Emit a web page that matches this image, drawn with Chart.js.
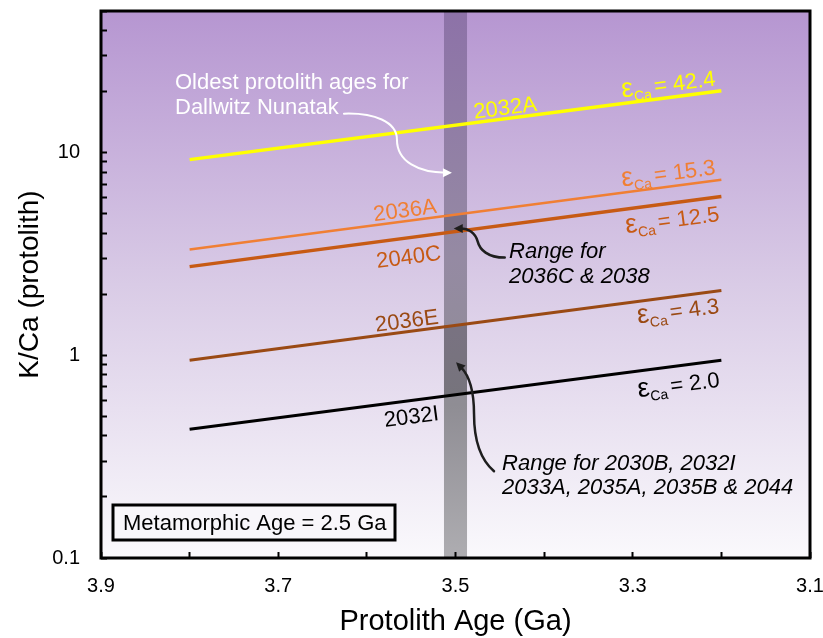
<!DOCTYPE html>
<html>
<head>
<meta charset="utf-8">
<script src="https://cdn.jsdelivr.net/npm/chart.js@4/dist/chart.umd.min.js"></script>
<style>
  html, body { margin: 0; padding: 0; background: #ffffff; }
  #c { display: block; }
</style>
</head>
<body>
<canvas id="c" width="823" height="638"></canvas>
<script>
// ---- data -------------------------------------------------------------
// Protolith ages (Ga) at which each K/Ca model line is evaluated
const ages = [3.8, 3.2];

// K/Ca (protolith) for each sample at those ages
const kca2032A = [9.24, 20.2];
const kca2036A = [3.33, 7.36];
const kca2040C = [2.74, 6.07];
const kca2036E = [0.945, 2.09];
const kca2032I = [0.432, 0.945];

const sampleNames = ['2032A', '2036A', '2040C', '2036E', '2032I'];
const epsilonCa   = ['42.4', '15.3', '12.5', '4.3', '2.0'];

// Axis ticks
const ageTickValues = [3.9, 3.8, 3.7, 3.6, 3.5, 3.4, 3.3, 3.2, 3.1];
const ageTickLabels = ['3.9', '', '3.7', '', '3.5', '', '3.3', '', '3.1'];
const kcaTickValues = [0.1, 0.2, 0.3, 0.4, 0.5, 0.6, 0.7, 0.8, 0.9,
                       1, 2, 3, 4, 5, 6, 7, 8, 9,
                       10, 20, 30, 40, 50];
const kcaTickLabels = ['0.1', '', '', '', '', '', '', '', '',
                       '1', '', '', '', '', '', '', '', '',
                       '10', '', '', '', ''];

// Oldest protolith age band and the K/Ca ranges within it
const bandAge   = [3.513, 3.487];
const rangeHigh = [4.08, 4.95];   // 2036C & 2038
const rangeLow  = [0.64, 1.41];   // 2030B, 2032I, 2033A, 2035A, 2035B & 2044

const seriesValues = [kca2032A, kca2036A, kca2040C, kca2036E, kca2032I];

// ---- styling ----------------------------------------------------------
const FONT = '"Liberation Sans", Arial, Helvetica, sans-serif';
const lineColors = ['#ffff00', '#f07f34', '#c75a14', '#9a4a14', '#000000'];
const lineWidths = [3.5, 2.5, 3.5, 3, 3];

// where the sample names / epsilon labels sit along each line
const nameLabelAge   = [3.478, 3.591, 3.592, 3.589, 3.583];
const nameLabelShift = [-4, -4, 26, -4, 23];
const epsLabelAge    = 3.205;
const epsLabelShift  = [-6, -6, 24, 22, 26];

const notes = [
  { age: 3.8165, kca: 20.67, gap: 25, color: '#ffffff', italic: false,
    lines: ['Oldest protolith ages for', 'Dallwitz Nunatak'] },
  { age: 3.4396, kca: 3.005, gap: 25, color: '#000000', italic: true,
    lines: ['Range for', '2036C & 2038'] },
  { age: 3.4475, kca: 0.2714, gap: 24, color: '#000000', italic: true,
    lines: ['Range for 2030B, 2032I', '2033A, 2035A, 2035B & 2044'] }
];

// curved pointers: tip anchored in data space, shape in pixel offsets from the tip
const pointers = [
  { age: 3.504, kca: 7.97, color: '#ffffff', width: 2,
    path: [[-108, -59], [-78, -60], [-55, -51], [-55, -33], [-55, -11], [-33, 0], [-6, 0]] },
  { age: 3.502, kca: 4.22, color: '#1e1e1e', width: 2.5,
    path: [[51, 29], [34, 29], [26, 21], [24, 13], [21, 3], [14, 0], [6, 0]] },
  { age: 3.4994, kca: 0.924, color: '#1e1e1e', width: 2.5,
    path: [[38, 109], [24, 97], [18, 77], [18, 52], [18, 27], [12, 12], [5, 5]] }
];

function lookupLabel(values, labels, v) {
  for (let i = 0; i < values.length; i++) {
    if (Math.abs(values[i] - v) < 1e-6 * Math.max(1, Math.abs(v))) return labels[i];
  }
  return '';
}

function linePoint(chart, i, age) {
  const xs = chart.scales.x, ys = chart.scales.y;
  const x1 = xs.getPixelForValue(ages[0]), y1 = ys.getPixelForValue(seriesValues[i][0]);
  const x2 = xs.getPixelForValue(ages[1]), y2 = ys.getPixelForValue(seriesValues[i][1]);
  const x = xs.getPixelForValue(age);
  const t = (x - x1) / (x2 - x1);
  return { x: x, y: y1 + t * (y2 - y1), angle: Math.atan2(y2 - y1, x2 - x1) };
}

function drawEpsilon(ctx, value, color) {
  // right-aligned at the origin, baseline at y = 0
  const eps = '27px ' + FONT, big = '22px ' + FONT, small = '14px ' + FONT;
  ctx.font = eps;
  const wE = ctx.measureText('\u03b5').width;
  ctx.font = big;
  const wR = ctx.measureText('= ' + value).width;
  ctx.font = small;
  const wS = ctx.measureText('Ca').width;
  let x = -(wE + wS + 3 + wR);
  ctx.fillStyle = color;
  ctx.textAlign = 'left';
  ctx.textBaseline = 'alphabetic';
  ctx.font = eps;   ctx.fillText('\u03b5', x, 0); x += wE;
  ctx.font = small; ctx.fillText('Ca', x, 5); x += wS + 3;
  ctx.font = big;   ctx.fillText('= ' + value, x, 0);
}

function drawHead(ctx, x, y, angle, len, half) {
  ctx.save();
  ctx.translate(x, y);
  ctx.rotate(angle);
  ctx.beginPath();
  ctx.moveTo(0, 0);
  ctx.lineTo(-len, -half);
  ctx.lineTo(-len, half);
  ctx.closePath();
  ctx.fill();
  ctx.restore();
}

const decor = {
  id: 'decor',
  beforeDraw(chart) {
    const { ctx, chartArea: a } = chart;
    const xs = chart.scales.x, ys = chart.scales.y;
    ctx.save();
    // plot background
    const g = ctx.createLinearGradient(0, a.top, 0, a.bottom);
    g.addColorStop(0, '#b696d1');
    g.addColorStop(0.5, '#d9cbe6');
    g.addColorStop(1, '#faf9fc');
    ctx.fillStyle = g;
    ctx.fillRect(a.left, a.top, a.right - a.left, a.bottom - a.top);

    // age band
    const bx1 = xs.getPixelForValue(bandAge[0]), bx2 = xs.getPixelForValue(bandAge[1]);
    const bl = Math.min(bx1, bx2), bw = Math.abs(bx2 - bx1);
    const bg = ctx.createLinearGradient(0, a.top, 0, a.bottom);
    bg.addColorStop(0, '#8d72a8');
    bg.addColorStop(0.45, '#958aa3');
    bg.addColorStop(0.72, '#8f8d94');
    bg.addColorStop(1, '#aeadb1');
    ctx.fillStyle = bg;
    ctx.fillRect(bl, a.top, bw, a.bottom - a.top);

    ctx.fillStyle = 'rgba(40,38,48,0.24)';
    [rangeHigh, rangeLow].forEach(r => {
      const t = ys.getPixelForValue(r[1]), b = ys.getPixelForValue(r[0]);
      ctx.fillRect(bl, t, bw, b - t);
    });
    ctx.restore();
  },
  afterDatasetsDraw(chart) {
    const { ctx } = chart;
    const xs = chart.scales.x, ys = chart.scales.y;
    ctx.save();

    // sample names and epsilon values along the lines
    sampleNames.forEach((name, i) => {
      const p = linePoint(chart, i, nameLabelAge[i]);
      ctx.save();
      ctx.translate(p.x, p.y);
      ctx.rotate(p.angle);
      ctx.font = '22px ' + FONT;
      ctx.fillStyle = lineColors[i];
      ctx.textAlign = 'left';
      ctx.textBaseline = 'alphabetic';
      ctx.fillText(name, 0, nameLabelShift[i]);
      ctx.restore();

      const q = linePoint(chart, i, epsLabelAge);
      ctx.save();
      ctx.translate(q.x, q.y);
      ctx.rotate(q.angle);
      ctx.translate(0, epsLabelShift[i]);
      drawEpsilon(ctx, epsilonCa[i], lineColors[i]);
      ctx.restore();
    });

    // notes
    notes.forEach(n => {
      const x = xs.getPixelForValue(n.age), y = ys.getPixelForValue(n.kca);
      ctx.font = (n.italic ? 'italic ' : '') + '22px ' + FONT;
      ctx.fillStyle = n.color;
      ctx.textAlign = 'left';
      ctx.textBaseline = 'alphabetic';
      n.lines.forEach((t, k) => ctx.fillText(t, x, y + k * n.gap));
    });

    // pointers
    pointers.forEach(pt => {
      const tx = xs.getPixelForValue(pt.age), ty = ys.getPixelForValue(pt.kca);
      const P = pt.path.map(([dx, dy]) => [tx + dx, ty + dy]);
      ctx.strokeStyle = pt.color;
      ctx.fillStyle = pt.color;
      ctx.lineWidth = pt.width;
      ctx.lineCap = 'round';
      ctx.beginPath();
      ctx.moveTo(P[0][0], P[0][1]);
      ctx.bezierCurveTo(P[1][0], P[1][1], P[2][0], P[2][1], P[3][0], P[3][1]);
      ctx.bezierCurveTo(P[4][0], P[4][1], P[5][0], P[5][1], P[6][0], P[6][1]);
      ctx.stroke();
      const ang = Math.atan2(ty - P[5][1], tx - P[5][0]);
      drawHead(ctx, tx, ty, ang, 9, 4.5);
    });
    ctx.restore();
  },
  afterDraw(chart) {
    const { ctx, chartArea: a } = chart;
    ctx.save();
    // plot frame
    ctx.strokeStyle = '#000000';
    ctx.lineWidth = 3;
    ctx.strokeRect(a.left, a.top, a.right - a.left, a.bottom - a.top);

    // metamorphic age box
    const bl = a.left + 12, bt = a.bottom - 53, bw = 282, bh = 35;
    ctx.fillStyle = '#f8f6fa';
    ctx.fillRect(bl, bt, bw, bh);
    ctx.lineWidth = 3;
    ctx.strokeRect(bl, bt, bw, bh);
    ctx.fillStyle = '#000000';
    ctx.font = '22px ' + FONT;
    ctx.textAlign = 'left';
    ctx.textBaseline = 'middle';
    ctx.fillText('Metamorphic Age = 2.5 Ga', bl + 10, bt + bh / 2 + 1);
    ctx.restore();
  }
};

new Chart(document.getElementById('c'), {
  type: 'scatter',
  data: {
    datasets: sampleNames.map((name, i) => ({
      label: name,
      data: ages.map((a, j) => ({ x: a, y: seriesValues[i][j] })),
      showLine: true,
      borderColor: lineColors[i],
      backgroundColor: lineColors[i],
      borderWidth: lineWidths[i],
      pointRadius: 0,
      pointHoverRadius: 0,
      fill: false,
      tension: 0
    }))
  },
  options: {
    responsive: false,
    animation: false,
    devicePixelRatio: 1,
    events: [],
    layout: { padding: { top: 11, right: 13, bottom: 0, left: 0 } },
    plugins: { legend: { display: false }, tooltip: { enabled: false } },
    scales: {
      x: {
        type: 'linear',
        position: 'bottom',
        reverse: true,
        min: 3.1,
        max: 3.9,
        afterBuildTicks: s => { s.ticks = ageTickValues.map(v => ({ value: v })); },
        afterFit: s => { s.height = 80; s.paddingLeft = 0; s.paddingRight = 0; },
        ticks: {
          autoSkip: false, maxRotation: 0, minRotation: 0, padding: 22,
          color: '#000000', font: { family: FONT, size: 20 },
          callback: v => lookupLabel(ageTickValues, ageTickLabels, v)
        },
        grid: { display: true, drawOnChartArea: false, drawTicks: true,
                tickLength: -6, tickWidth: 2, tickColor: '#000000' },
        border: { display: false },
        title: { display: true, text: 'Protolith Age (Ga)', color: '#000000',
                 font: { family: FONT, size: 29, lineHeight: 1.2 }, padding: { top: 0, bottom: -1 } }
      },
      y: {
        type: 'logarithmic',
        position: 'left',
        min: 0.1,
        max: 50,
        afterBuildTicks: s => { s.ticks = kcaTickValues.map(v => ({ value: v })); },
        afterFit: s => { s.width = 101; s.paddingTop = 0; s.paddingBottom = 0; },
        ticks: {
          autoSkip: false, padding: 27,
          color: '#000000', font: { family: FONT, size: 20 },
          callback: v => lookupLabel(kcaTickValues, kcaTickLabels, v)
        },
        grid: { display: true, drawOnChartArea: false, drawTicks: true,
                tickLength: -6, tickWidth: 2, tickColor: '#000000' },
        border: { display: false },
        title: { display: true, text: 'K/Ca (protolith)', color: '#000000',
                 font: { family: FONT, size: 28, lineHeight: 1.2 }, padding: { top: 13, bottom: 0 } }
      }
    }
  },
  plugins: [decor]
});
</script>
</body>
</html>
